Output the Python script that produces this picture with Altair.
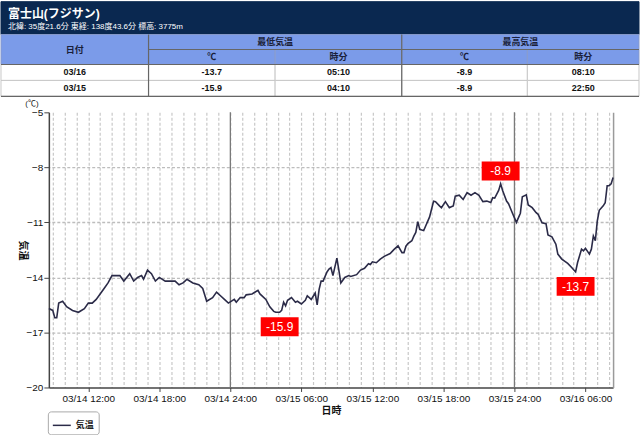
import altair as alt
import pandas as pd

FONT = "Liberation Sans, Noto Sans CJK JP"
NAVY = "#0a2850"
HEAD = "#7b9be9"
LINE = "#2b2b48"

# ---------------- header / table values ----------------
title_text = "富士山(フジサン)"
subtitle_text = "北緯: 35度21.6分 東経: 138度43.6分 標高: 3775m"
unit_text = "(℃)"
head_top = ["日付", "最低気温", "最高気温"]
head_sub = ["℃", "時分", "℃", "時分"]
dates = ["03/16", "03/15"]
min_temp = [-13.7, -15.9]
min_time = ["05:10", "04:10"]
max_temp = [-8.9, -8.9]
max_time = ["08:10", "22:50"]

day14_times = ["08:40", "09:00", "09:10", "09:20", "09:30", "09:50", "10:10", "10:40", "11:10", "11:40",
               "12:00", "12:20", "12:40", "13:00", "13:20", "13:40", "14:00", "14:20", "14:40", "15:00",
               "15:30", "15:50", "16:10", "16:30", "16:40", "17:00", "17:20", "17:40", "18:00", "18:30",
               "18:50", "19:20", "19:40", "20:00", "20:10", "20:20", "20:50", "21:20", "21:40", "22:00",
               "22:30", "22:50", "23:10", "23:30", "23:50"]
day14_vals = [-15.7, -15.8, -16.2, -16.2, -15.4, -15.3, -15.6, -15.8, -15.9, -15.7,
              -15.4, -15.4, -15.2, -14.9, -14.6, -14.3, -13.9, -13.9, -13.9, -14.2,
              -13.8, -14.2, -14.0, -13.9, -14.1, -13.6, -13.8, -14.2, -14.0, -14.2,
              -14.2, -14.2, -14.4, -14.3, -14.2, -14.1, -14.3, -14.4, -14.6, -15.3,
              -15.1, -14.8, -15.0, -15.2, -15.4]
day15_times = ["00:20", "00:30", "00:50", "01:10", "01:20", "01:50", "02:20", "02:30", "03:00", "03:20",
               "03:40", "03:50", "04:10", "04:20", "04:30", "04:40", "04:50", "05:10", "05:30", "05:40",
               "06:00", "06:20", "06:30", "06:50", "07:10", "07:20", "07:30", "07:40", "07:50", "08:10",
               "08:20", "08:30", "08:40", "09:00", "09:10", "09:20", "09:40", "10:00", "10:10", "10:40",
               "11:00", "11:20", "11:40", "11:50", "12:00", "12:20", "12:40", "13:00", "13:30", "13:50",
               "14:10", "14:30", "14:40", "14:50", "15:00", "15:20", "15:30", "15:40", "15:50", "16:00",
               "16:20", "16:30", "16:50", "17:10", "17:20", "17:40", "17:50", "18:10", "18:30", "18:40",
               "18:50", "19:00", "19:20", "19:40", "20:00", "20:20", "20:40", "21:00", "21:20", "21:40",
               "22:00", "22:10", "22:20", "22:40", "22:50", "23:00", "23:20", "23:30", "23:50"]
day15_vals = [-15.2, -15.35, -15.1, -15.1, -14.95, -14.9, -14.7, -14.9, -15.2, -15.6,
              -15.85, -15.9, -15.9, -15.8, -15.35, -15.55, -15.25, -15.1, -15.35, -15.3,
              -15.45, -15.25, -15.0, -15.2, -14.85, -15.5, -14.65, -14.2, -14.2, -13.7,
              -13.55, -13.47, -13.9, -12.95, -13.6, -14.3, -14.0, -13.9, -13.95, -13.85,
              -13.6, -13.5, -13.25, -13.3, -13.15, -13.2, -13.0, -12.85, -12.7, -12.47,
              -12.28, -12.65, -12.65, -12.3, -12.15, -12.0, -11.75, -11.55, -10.96, -11.38,
              -11.45, -11.2, -10.7, -9.85, -9.87, -10.1, -10.2, -9.87, -10.2, -10.15,
              -10.1, -9.57, -9.52, -9.75, -9.38, -9.52, -9.38, -9.52, -9.87, -9.84,
              -9.92, -9.65, -9.68, -9.26, -8.9, -9.26, -9.84, -9.98, -10.5]
day16_times = ["00:10", "00:30", "00:40", "01:00", "01:10", "01:30", "01:50", "02:00", "02:20", "02:40",
               "02:50", "03:10", "03:30", "03:40", "04:00", "04:30", "04:50", "05:10", "05:20", "05:40",
               "05:50", "06:00", "06:20", "06:30", "06:40", "06:50", "07:00", "07:10", "07:30", "07:40",
               "07:50", "08:00", "08:10", "08:20"]
day16_vals = [-11.0, -10.5, -9.6, -9.5, -10.05, -10.2, -10.47, -10.56, -11.02, -11.07,
              -11.68, -11.79, -12.19, -12.73, -13.0, -13.24, -13.46, -13.7, -13.19, -12.46,
              -12.55, -12.41, -12.73, -12.46, -11.74, -12.0, -10.92, -10.34, -10.1, -9.93,
              -9.0, -9.0, -8.9, -8.55]


def hours_of(day_index, hhmm):
    h, m = hhmm.split(":")
    return day_index * 24 + int(h) + int(m) / 60.0


# x = hours since 03/14 00:00
hrs = ([hours_of(0, t) for t in day14_times] + [hours_of(1, t) for t in day15_times]
       + [hours_of(2, t) for t in day16_times])
vals = day14_vals + day15_vals + day16_vals
line_df = pd.DataFrame({"h": hrs, "v": vals, "series": "気温"})
X_DOMAIN = [hrs[0], hrs[-1]]

# annotated extremes (from the table): 03/15 min, 03/15 max, 03/16 min
ann_df = pd.DataFrame({
    "h": [hours_of(1, min_time[1]), hours_of(1, max_time[1]), hours_of(2, min_time[0])],
    "v": [min_temp[1], max_temp[1], min_temp[0]],
    "kind": ["min", "max", "min"],
})
ann_df["label"] = ann_df["v"].map(lambda x: f"{x:.1f}")

midnights_df = pd.DataFrame({"h": [24.0, 48.0]})
label_ticks = [12, 18, 24, 30, 36, 42, 48, 54]
hour_ticks = list(range(9, 57))

# ---------------- table layout (page pixels) ----------------
col_edges = [0, 148, 275, 402, 528, 640]
row_edges = [33, 48, 63, 79, 95]
cells = []


def add_cell(x0, x1, y0, y1, text, fill, stroke, tcolor):
    cells.append(dict(x0=x0, x1=x1, y0=y0, y1=y1, xc=(x0 + x1) / 2, yc=(y0 + y1) / 2,
                      text=text, fill=fill, stroke=stroke, tcolor=tcolor))


add_cell(0, 640, 0, row_edges[0], "", NAVY, NAVY, "#ffffff")
add_cell(col_edges[0], col_edges[1], row_edges[0], row_edges[2], head_top[0], HEAD, "#8a9ccc", "#1a1f3a")
add_cell(col_edges[1], col_edges[3], row_edges[0], row_edges[1], head_top[1], HEAD, "#8a9ccc", "#1a1f3a")
add_cell(col_edges[3], col_edges[5], row_edges[0], row_edges[1], head_top[2], HEAD, "#8a9ccc", "#1a1f3a")
for i, lab in enumerate(head_sub):
    add_cell(col_edges[1 + i], col_edges[2 + i], row_edges[1], row_edges[2], lab, HEAD, "#8a9ccc", "#1a1f3a")
for r, row in enumerate(zip(dates, [f"{v:.1f}" for v in min_temp], min_time,
                            [f"{v:.1f}" for v in max_temp], max_time)):
    for c, v in enumerate(row):
        add_cell(col_edges[c], col_edges[c + 1], row_edges[2 + r], row_edges[3 + r], v,
                 "#ffffff", "#c8c8c8", "#111111")
cells_df = pd.DataFrame(cells)

rules_df = pd.DataFrame([
    dict(x0=col_edges[1], x1=col_edges[1], y0=row_edges[0], y1=row_edges[4]),
    dict(x0=col_edges[3], x1=col_edges[3], y0=row_edges[0], y1=row_edges[4]),
    dict(x0=col_edges[1], x1=col_edges[5], y0=row_edges[1], y1=row_edges[1]),
    dict(x0=col_edges[0], x1=col_edges[5], y0=row_edges[2], y1=row_edges[2]),
    dict(x0=col_edges[0], x1=col_edges[5], y0=row_edges[4], y1=row_edges[4]),
])

sub_df = pd.DataFrame([dict(x=7, y=25.5, text=subtitle_text)])
unit_df = pd.DataFrame([dict(x=31, y=102.5, text=unit_text)])
title_df = pd.DataFrame([dict(x=7, y=12.5, text=title_text)])


def sx():
    return alt.Scale(domain=[0, 640], range=[-48, 592], nice=False, zero=False)


def sy():
    return alt.Scale(domain=[0, 435], range=[-111, 324], nice=False, zero=False)


t_rect = alt.Chart(cells_df).mark_rect(strokeWidth=1).encode(
    x=alt.X("x0:Q", scale=sx(), axis=None), x2="x1:Q",
    y=alt.Y("y0:Q", scale=sy(), axis=None), y2="y1:Q",
    fill=alt.Fill("fill:N", scale=None), stroke=alt.Stroke("stroke:N", scale=None))
t_rule = alt.Chart(rules_df).mark_rule(color="#666666", strokeWidth=1.2).encode(
    x=alt.X("x0:Q", scale=sx(), axis=None), x2="x1:Q",
    y=alt.Y("y0:Q", scale=sy(), axis=None), y2="y1:Q")
t_text = alt.Chart(cells_df).mark_text(font=FONT, fontSize=9, fontWeight="bold", baseline="middle").encode(
    x=alt.X("xc:Q", scale=sx(), axis=None), y=alt.Y("yc:Q", scale=sy(), axis=None),
    text="text:N", fill=alt.Fill("tcolor:N", scale=None))
h_title = alt.Chart(title_df).mark_text(font=FONT, fontSize=12, fontWeight="bold", align="left",
                                        baseline="middle", fill="#ffffff").encode(
    x=alt.X("x:Q", scale=sx(), axis=None), y=alt.Y("y:Q", scale=sy(), axis=None), text="text:N")
h_sub = alt.Chart(sub_df).mark_text(font=FONT, fontSize=8, align="left",
                                    baseline="middle", fill="#ffffff").encode(
    x=alt.X("x:Q", scale=sx(), axis=None), y=alt.Y("y:Q", scale=sy(), axis=None), text="text:N")
h_unit = alt.Chart(unit_df).mark_text(font=FONT, fontSize=8, align="center",
                                      baseline="middle", fill="#111111").encode(
    x=alt.X("x:Q", scale=sx(), axis=None), y=alt.Y("y:Q", scale=sy(), axis=None), text="text:N")

# ---------------- main plot ----------------


def xs():
    return alt.Scale(domain=X_DOMAIN, nice=False, zero=False)


def ys():
    return alt.Scale(domain=[-20, -5], nice=False, zero=False)


LABEL_EXPR = ("'03/' + (14 + floor((datum.value - 0.01) / 24)) + ' ' + "
              "((datum.value - 24 * floor((datum.value - 0.01) / 24)) < 10 ? '0' : '') + "
              "(datum.value - 24 * floor((datum.value - 0.01) / 24)) + ':00'")

x_axis = alt.Axis(
    title="日時", values=label_ticks, grid=False, labelExpr=LABEL_EXPR,
    labelFont=FONT, labelFontSize=10, labelColor="#111111", labelPadding=2, labelOverlap=False, labelFlush=False,
    titleFont=FONT, titleFontSize=10, titleFontWeight="bold", titleColor="#111111", titlePadding=2,
    domainColor="#444444", domainWidth=1.5, tickColor="#444444", tickSize=4)
y_axis = alt.Axis(
    title="気温", values=[-20, -17, -14, -11, -8, -5], grid=False,
    labelFont=FONT, labelFontSize=10, labelColor="#111111", labelPadding=1,
    titleFont=FONT, titleFontSize=10, titleFontWeight="bold", titleColor="#111111",
    titleAngle=90, titlePadding=8,
    domainColor="#444444", domainWidth=1.5, tickColor="#444444", tickSize=5)
hour_grid_axis = alt.Axis(
    orient="top", labels=False, ticks=False, domain=False, title=None, grid=True,
    values=hour_ticks, gridColor="#c8c8c8", gridDash=[3, 2], gridWidth=1.2)
right_axis = alt.Axis(orient="right", labels=False, ticks=False, grid=True, title=None,
                      values=[-17, -14, -11, -8], gridColor="#bdbdbd", gridDash=[3, 2], gridWidth=1.3,
                      domainColor="#9a9a9a", domainWidth=1.5)

legend = alt.Legend(orient="none", legendX=-1, legendY=300, title=None, strokeColor="#aaaaaa",
                    cornerRadius=3, padding=4, fillColor="#ffffff", symbolType="stroke",
                    symbolStrokeWidth=1.5, symbolSize=324, labelFont=FONT, labelFontSize=9,
                    labelFontWeight="bold", labelColor="#222222")

midnight = alt.Chart(midnights_df).mark_rule(color="#7a7a7a", strokeWidth=1.3).encode(
    x=alt.X("h:Q", scale=xs(), axis=hour_grid_axis))

line = alt.Chart(line_df).mark_line(strokeWidth=1.6).encode(
    x=alt.X("h:Q", scale=xs(), axis=x_axis),
    y=alt.Y("v:Q", scale=ys(), axis=y_axis),
    color=alt.Color("series:N", scale=alt.Scale(range=[LINE]), legend=legend))

BOX = "M-1,-0.5L1,-0.5L1,0.5L-1,0.5Z"


def ann_layers(kind, off, y_axis_def):
    base = alt.Chart(ann_df).transform_filter(alt.datum.kind == kind)
    box = base.mark_point(shape=BOX, size=1444, filled=True, fill="#ff0000", opacity=1,
                          strokeWidth=0, yOffset=off).encode(
        x=alt.X("h:Q", scale=xs(), axis=None), y=alt.Y("v:Q", scale=ys(), axis=y_axis_def))
    txt = base.mark_text(font="Liberation Sans", fontSize=12, fill="#ffffff", baseline="middle",
                         yOffset=off + 0.5).encode(
        x=alt.X("h:Q", scale=xs(), axis=None), y=alt.Y("v:Q", scale=ys(), axis=None), text="label:N")
    return [box, txt]


layers = [t_rect, t_rule, t_text, h_title, h_sub, h_unit, midnight, line,
          *ann_layers("min", 14.5, right_axis), *ann_layers("max", -13, None)]

chart = alt.layer(*layers).resolve_scale(x="independent", y="independent").properties(
    width=566, height=276, padding=0, background="white",
).configure_view(stroke=None)

chart.save("out.html", embed_options={"renderer": "svg", "actions": False})
